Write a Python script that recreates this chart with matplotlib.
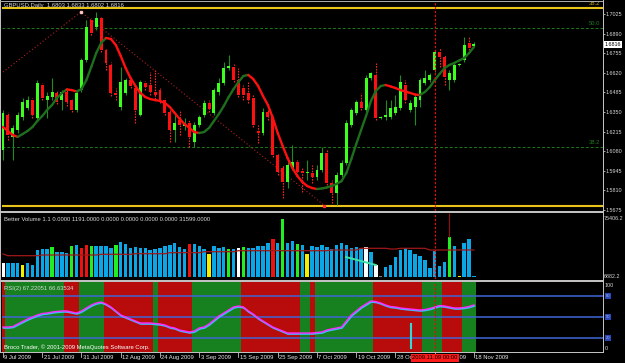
import numpy as np
import matplotlib
matplotlib.use('Agg')
import matplotlib.pyplot as plt
import matplotlib.transforms as mtransforms
from matplotlib.collections import LineCollection
from matplotlib.patches import Rectangle

plt.rcParams['font.family'] = ['Liberation Sans', 'DejaVu Sans']

W, H = 625, 363

# GBPUSD daily bars, 9 Jul 2009 .. 18 Nov 2009 (two short Sunday bars included)
opens = [1.6088, 1.6329, 1.6178, 1.6226, 1.6315, 1.6377, 1.6432, 1.6308, 1.6535, 1.6432,
         1.6453, 1.6480, 1.6432, 1.6487, 1.6432, 1.6364, 1.6501, 1.6708, 1.6984, 1.6935,
         1.6997, 1.6777, 1.6673, 1.6480, 1.6384, 1.6480, 1.6570, 1.6515, 1.6329, 1.6549,
         1.6535, 1.6487, 1.6501, 1.6432, 1.6350, 1.6226, 1.6295, 1.6253, 1.6274, 1.6143,
         1.6260, 1.6329, 1.6411, 1.6343, 1.6487, 1.6549, 1.6653, 1.6660, 1.6570, 1.6515,
         1.6480, 1.6446, 1.6219, 1.6205, 1.6350, 1.6315, 1.6054, 1.5964, 1.5867, 1.5964,
         1.6005, 1.5943, 1.5929, 1.5929, 1.5902, 1.5950, 1.6067, 1.5860, 1.5792, 1.5916,
         1.5998, 1.6260, 1.6343, 1.6418, 1.6364, 1.6584, 1.6604, 1.6308, 1.6315, 1.6315,
         1.6343, 1.6377, 1.6535, 1.6364, 1.6384, 1.6432, 1.6549, 1.6570, 1.6639, 1.6763,
         1.6729, 1.6570, 1.6570, 1.6673, 1.6708, 1.6825, 1.6803]
highs = [1.6364, 1.6350, 1.6260, 1.6350, 1.6446, 1.6460, 1.6446, 1.6570, 1.6549, 1.6487,
         1.6584, 1.6501, 1.6501, 1.6515, 1.6446, 1.6501, 1.6722, 1.6984, 1.6997, 1.7039,
         1.7011, 1.6791, 1.6694, 1.6515, 1.6660, 1.6584, 1.6584, 1.6529, 1.6570, 1.6563,
         1.6625, 1.6639, 1.6515, 1.6446, 1.6364, 1.6343, 1.6364, 1.6308, 1.6295, 1.6281,
         1.6329, 1.6432, 1.6432, 1.6515, 1.6584, 1.6694, 1.6742, 1.6680, 1.6653, 1.6535,
         1.6556, 1.6466, 1.6260, 1.6377, 1.6364, 1.6329, 1.6067, 1.5985, 1.6005, 1.6122,
         1.6019, 1.5964, 1.6019, 1.5985, 1.5985, 1.6109, 1.6088, 1.5881, 1.5936, 1.6019,
         1.6295, 1.6377, 1.6432, 1.6480, 1.6604, 1.6625, 1.6687, 1.6322, 1.6432, 1.6432,
         1.6466, 1.6604, 1.6570, 1.6432, 1.6466, 1.6584, 1.6639, 1.6618, 1.6777, 1.6791,
         1.6742, 1.6639, 1.6687, 1.6687, 1.6867, 1.6867, 1.6833]
lows = [1.6019, 1.6157, 1.6019, 1.6205, 1.6295, 1.6364, 1.6308, 1.6295, 1.6432, 1.6308,
        1.6432, 1.6405, 1.6364, 1.6391, 1.6350, 1.6350, 1.6487, 1.6694, 1.6880, 1.6915,
        1.6763, 1.6639, 1.6460, 1.6432, 1.6364, 1.6466, 1.6515, 1.6274, 1.6322, 1.6501,
        1.6466, 1.6439, 1.6411, 1.6329, 1.6143, 1.6143, 1.6191, 1.6226, 1.6109, 1.6109,
        1.6246, 1.6315, 1.6350, 1.6329, 1.6466, 1.6535, 1.6639, 1.6556, 1.6453, 1.6432,
        1.6411, 1.6246, 1.6136, 1.6191, 1.6295, 1.6040, 1.5916, 1.5757, 1.5826, 1.5950,
        1.5916, 1.5799, 1.5881, 1.5860, 1.5881, 1.5936, 1.5847, 1.5723, 1.5709, 1.5902,
        1.5985, 1.6246, 1.6329, 1.6364, 1.6350, 1.6570, 1.6295, 1.6302, 1.6295, 1.6302,
        1.6329, 1.6364, 1.6411, 1.6350, 1.6260, 1.6384, 1.6535, 1.6556, 1.6625, 1.6660,
        1.6535, 1.6501, 1.6556, 1.6667, 1.6694, 1.6777, 1.6802]
closes = [1.6343, 1.6191, 1.6240, 1.6329, 1.6418, 1.6432, 1.6329, 1.6549, 1.6446, 1.6460,
          1.6487, 1.6418, 1.6487, 1.6418, 1.6364, 1.6480, 1.6708, 1.6935, 1.6894, 1.6997,
          1.6777, 1.6687, 1.6480, 1.6466, 1.6556, 1.6570, 1.6529, 1.6364, 1.6556, 1.6522,
          1.6487, 1.6466, 1.6432, 1.6343, 1.6226, 1.6274, 1.6260, 1.6267, 1.6178, 1.6260,
          1.6315, 1.6411, 1.6370, 1.6501, 1.6549, 1.6653, 1.6667, 1.6570, 1.6466, 1.6466,
          1.6432, 1.6260, 1.6205, 1.6350, 1.6315, 1.6054, 1.5936, 1.5867, 1.5985, 1.6005,
          1.5936, 1.5929, 1.5936, 1.5902, 1.5950, 1.6067, 1.5860, 1.5792, 1.5916, 1.5998,
          1.6274, 1.6364, 1.6418, 1.6377, 1.6584, 1.6618, 1.6308, 1.6315, 1.6329, 1.6377,
          1.6384, 1.6556, 1.6432, 1.6411, 1.6453, 1.6570, 1.6584, 1.6604, 1.6763, 1.6729,
          1.6591, 1.6618, 1.6673, 1.6680, 1.6811, 1.6791, 1.6816]

# smoothed moving average drawn over the candles (red falling, green rising)
hma = [1.6246, 1.6219, 1.6191, 1.6178, 1.6198, 1.6219, 1.6246, 1.6288, 1.6322, 1.6364,
       1.6398, 1.6446, 1.6481, 1.6505, 1.6501, 1.6491, 1.6508, 1.6570, 1.6660, 1.6756,
       1.6825, 1.6860, 1.6853, 1.6811, 1.6736, 1.6653, 1.6584, 1.6529, 1.6481, 1.6453,
       1.6439, 1.6432, 1.6426, 1.6412, 1.6384, 1.6343, 1.6302, 1.6267, 1.6240, 1.6212,
       1.6205, 1.6212, 1.6240, 1.6288, 1.6336, 1.6391, 1.6453, 1.6508, 1.6557, 1.6598,
       1.6605, 1.6577, 1.6529, 1.6460, 1.6398, 1.6309, 1.6205, 1.6116, 1.6033, 1.5964,
       1.5909, 1.5868, 1.5840, 1.5826, 1.5819, 1.5823, 1.5830, 1.5840, 1.5854, 1.5874,
       1.5930, 1.6026, 1.6129, 1.6226, 1.6322, 1.6426, 1.6495, 1.6529, 1.6536, 1.6526,
       1.6515, 1.6501, 1.6491, 1.6481, 1.6470, 1.6467, 1.6488, 1.6522, 1.6570, 1.6612,
       1.6653, 1.6674, 1.6688, 1.6705, 1.6722, 1.6756, 1.6798]

# fibonacci / trend objects on the price pane
fib_yellow = [1.7066, 1.5702]
fib_green = [1.6929, 1.6109]
fib_green_lbl = ['50.0', '38.2']
trend_x = [0.0, 15.9, 65.4]
trend_y = [1.6625, 1.7039, 1.5709]
price_ticks = [1.7025, 1.6890, 1.6755, 1.6620, 1.6485, 1.6350, 1.6215,
               1.6080, 1.5945, 1.5810, 1.5675]

# Better Volume 1.1
volumes = [23422, 23422, 23422, 23422, 21059, 23422, 21059, 38780, 39961, 39961,
           42324, 36417, 36417, 35236, 43505, 44686, 41143, 44686, 43505, 43505,
           43505, 43505, 41143, 44686, 48231, 45868, 41143, 42324, 41143, 41143,
           38780, 39961, 41143, 43505, 44686, 47049, 42324, 39961, 45868, 45868,
           43505, 39961, 34054, 43505, 41143, 42324, 39961, 39961, 41143, 42324,
           41143, 41143, 43505, 43505, 47049, 51775, 47049, 75406, 47049, 49412,
           45868, 44686, 34054, 43505, 42324, 44686, 42324, 39961, 44686, 47049,
           44686, 41143, 42324, 41143, 42324, 36417, 21059, 8063, 18696, 21059,
           30510, 38780, 41143, 38780, 34054, 31691, 26966, 17515, 37598, 19877,
           24603, 54138, 43505, 7500, 47049, 51775, 8063]
vol_kind = list("wbbbybbbbb" "gbbbgbrrgb" "bbbgbbbbbb" "bbbbbbbbrb" "bbybbbgbwg"
                "bbbbbrbgbb" "gbybbbbbbb" "bbbbwbwkbb" "bbbbbbbbbb" "bgbybbb")
vol_avg = [34054, 32046, 32046, 32046, 32046, 32046, 32046, 32046, 32873, 32873,
           32873, 32873, 32873, 32873, 32873, 32873, 32873, 32873, 32873, 32873,
           33700, 33700, 33700, 33700, 33700, 33700, 33700, 34409, 34409, 34409,
           34409, 34409, 34409, 34409, 35590, 35590, 35590, 35590, 35590, 35590,
           35590, 36772, 36772, 36772, 36772, 36772, 36772, 36772, 37953, 37953,
           37953, 37953, 37953, 37953, 37953, 37953, 37953, 37953, 37953, 37953,
           37953, 37953, 37953, 37953, 37953, 37953, 37953, 38780, 38780, 38780,
           38780, 38780, 38780, 40788, 40788, 40788, 40788, 40788, 40788, 39961,
           39961, 40788, 40788, 40788, 40788, 40788, 40788, 38780, 38780, 38780,
           38780, 38780, 38780, 38780, 38780, 38780, 38780]
vol_top, vol_floor = 75406.2, 6882.2

# RSI(2) pane
rsi = [35.7, 35.7, 36.4, 40.0, 43.6, 47.1, 50.0, 52.9, 55.0, 55.7,
       57.1, 57.9, 58.6, 58.6, 57.1, 55.7, 58.6, 62.9, 67.1, 70.0,
       71.4, 68.6, 64.3, 58.6, 52.9, 50.0, 47.1, 44.3, 41.4, 41.4,
       41.4, 40.7, 40.0, 38.6, 35.7, 34.3, 31.4, 30.0, 28.6, 30.0,
       34.3, 35.7, 40.0, 45.7, 51.4, 55.7, 60.0, 64.3, 65.7, 64.3,
       58.6, 54.3, 48.6, 44.3, 40.0, 35.7, 32.9, 30.0, 27.1, 27.1,
       27.1, 27.1, 27.1, 27.1, 27.9, 28.6, 31.4, 32.9, 34.3, 35.7,
       44.3, 52.9, 58.6, 64.3, 68.6, 72.9, 72.1, 70.0, 67.1, 65.0,
       64.3, 62.9, 62.1, 61.4, 60.7, 60.0, 60.7, 62.1, 64.3, 66.4,
       65.7, 64.3, 62.9, 62.9, 63.6, 65.0, 67.2]
rsi_zone = ("0" "111111111111" "000" "11111" "0000000000" "1" "0000000"
            "1111111111" "000000000000" "11" "0" "111111111111"
            "0000000000" "1111" "0000" "111")
rsi_levels = [80, 50, 20]

date_idx = [0, 8, 16, 24, 32, 40, 48, 56, 64, 72, 80, 88, 96]
date_lbl = ['9 Jul 2009', '21 Jul 2009', '31 Jul 2009', '12 Aug 2009', '24 Aug 2009',
            '3 Sep 2009', '15 Sep 2009', '25 Sep 2009', '7 Oct 2009', '19 Oct 2009',
            '28 Oct 2009', '9 Nov 2009', '18 Nov 2009']
cross_idx = 88

BG = 'black'
FRAME = '#c0c0c0'
TXT = '#d8d8d8'
FS = 4.2
FSR = 3.9   # right-hand scale labels


def box(x0, y0, x1, y1):
    return [x0 / W, 1 - y1 / H, (x1 - x0) / W, (y1 - y0) / H]


def band(x0, y0, x1, y1, color):
    fig.add_artist(Rectangle((x0 / W, 1 - y1 / H), (x1 - x0) / W, (y1 - y0) / H,
                             transform=fig.transFigure, color=color, lw=0, zorder=20))


fig = plt.figure(figsize=(W / 100, H / 100), dpi=100, facecolor=BG)
ax = fig.add_axes(box(2, 2, 603, 211))
axv = fig.add_axes(box(2, 213, 603, 279))
axr = fig.add_axes(box(2, 282, 603, 352))
for a in (ax, axv, axr):
    a.set_facecolor(BG)
    a.set_xlim(-0.2, 122.3)
    for s in a.spines.values():
        s.set_visible(False)
    a.tick_params(left=False, bottom=False, labelleft=False, labelbottom=False)
    a.axvline(cross_idx, color='#ff0000', lw=0.8, ls=(0, (2, 1.5)), zorder=8)

x = np.arange(len(closes))
o, h, l, c = (np.array(v) for v in (opens, highs, lows, closes))
up = c >= o

# ---- price pane
ax.set_ylim(1.56677, 1.71077)
for lv in fib_yellow:
    ax.axhline(lv, color='#e8c41a', lw=1.5, zorder=1)
for lv, lbl in zip(fib_green, fib_green_lbl):
    ax.axhline(lv, color='#1c7a1c', lw=0.7, ls=(0, (3, 2)), zorder=1)
    ax.text(121.8, lv + 0.0012, lbl, ha='right', va='bottom', fontsize=FS, color='#1c7a1c')
ax.text(121.8, fib_yellow[0] + 0.0014, '38.2', ha='right', va='bottom', fontsize=FS,
        color='#c8a814')
ax.plot(trend_x, trend_y, color='#b02020', lw=0.8, ls=(0, (1, 2)), zorder=2)
ax.plot(trend_x[1], trend_y[1], 's', ms=2, color='#ffc0c0', zorder=6)
ax.plot(trend_x[2], fib_yellow[1], 's', ms=2, color='#ff3030', zorder=6)

ax.vlines(x[up], l[up], h[up], color='#1f8c1f', lw=0.8, zorder=3)
ax.vlines(x[~up], l[~up], h[~up], color='#ff2020', lw=0.8,
          linestyles=(0, (1.5, 1)), zorder=3)
body = np.maximum(np.abs(c - o), 0.0006)
ax.bar(x, body, bottom=np.minimum(o, c), width=0.6,
       color=np.where(up, '#3cff1e', '#ff1010'), zorder=4)

pts = np.column_stack([x, hma])
segs = np.stack([pts[:-1], pts[1:]], axis=1)
seg_cols = ['#ff1010' if hma[i + 1] < hma[i] else '#1d6e1d' for i in range(len(hma) - 1)]
ax.add_collection(LineCollection(segs, colors=seg_cols, linewidths=1.7,
                                 capstyle='round', zorder=5))

ax.yaxis.set_ticks_position('right')
ax.set_yticks(price_ticks)
ax.set_yticklabels([f'{v:.4f}' for v in price_ticks])
ax.tick_params(axis='y', right=True, labelright=True, length=1.5, width=0.6,
               color=FRAME, labelcolor=TXT, labelsize=FSR, pad=0.6)
yt = mtransforms.blended_transform_factory(ax.transAxes, ax.transData)
ax.text(1.003, closes[-1], f'{closes[-1]:.4f}', transform=yt, ha='left', va='center',
        fontsize=FSR, color='black', clip_on=False, zorder=10,
        bbox=dict(boxstyle='square,pad=0.15', fc='white', ec='none'))
ax.text(0.003, 0.981, 'GBPUSD,Daily  1.6803 1.6833 1.6802 1.6816',
        transform=ax.transAxes, ha='left', va='center', fontsize=FS, color=TXT)

# ---- volume pane
axv.set_ylim(4519, 82492)
vcol = {'b': '#0ba6e6', 'g': '#22ee22', 'r': '#ee1111', 'y': '#f0f000',
        'w': '#ffffff', 'k': '#808080'}
axv.bar(x, np.array(volumes) - vol_floor, bottom=vol_floor, width=0.7,
        color=[vcol[k] for k in vol_kind], zorder=2)
axv.plot(x, vol_avg, color='#a01818', lw=0.9, zorder=3)
axv.vlines(91, volumes[91], 82492, color='#8b1010', lw=0.9, zorder=3)
axv.plot([69.9, 76.0], [30510, 21059], color='#3de0a8', lw=1.4, zorder=4)
axv.text(0.003, 0.894, 'Better Volume 1.1 0.0000 1191.0000 0.0000 0.0000 0.0000 0.0000 31599.0000',
         transform=axv.transAxes, ha='left', va='center', fontsize=FS, color=TXT)
vt = mtransforms.blended_transform_factory(axv.transAxes, axv.transData)
for v in (vol_top, vol_floor):
    axv.text(1.001, v, f'{v:.1f}', transform=vt, ha='left', va='center',
             fontsize=FSR, color=TXT, clip_on=False)

# ---- RSI pane
axr.set_ylim(0, 100)
axr.bar(x, 100, width=1.0, linewidth=0, zorder=1,
        color=['#17801f' if z == '1' else '#b80c0c' for z in rsi_zone])
for lv in rsi_levels:
    axr.axhline(lv, color='#3f66d6', lw=1.1, zorder=2)
shifted = mtransforms.offset_copy(axr.transData, fig=fig, x=0.5, y=-1, units='dots')
axr.plot(x, rsi, color='#40b8ff', lw=1.2, transform=shifted, zorder=3)
axr.plot(x, rsi, color='#ff2cff', lw=1.0, zorder=4)
axr.plot([83.2, 83.2], [39.6, 5.3], color='#30d8d8', lw=1.5, zorder=4)
axr.text(0.003, 0.914, 'RSI(2) 67.22051 66.63534', transform=axr.transAxes,
         ha='left', va='center', fontsize=FS, color=TXT, zorder=6)
axr.text(0.003, 0.071, 'Broco Trader, \u00a9 2001-2009 MetaQuotes Software Corp.',
         transform=axr.transAxes, ha='left', va='center', fontsize=FS, color='white', zorder=6)
rt = mtransforms.blended_transform_factory(axr.transAxes, axr.transData)
axr.text(1.003, 94.3, '100', transform=rt, ha='left', va='center', fontsize=FSR,
         color=TXT, clip_on=False)
axr.text(1.003, 5.7, '0', transform=rt, ha='left', va='center', fontsize=FSR,
         color=TXT, clip_on=False)
for lv in rsi_levels:
    axr.text(1.004, lv, str(lv), transform=rt, ha='left', va='center', fontsize=3.0,
             color='#9fb4ff', clip_on=False,
             bbox=dict(boxstyle='square,pad=0.15', fc='#2a48b8', ec='none'))

dt = mtransforms.blended_transform_factory(axr.transData, axr.transAxes)
for i, lbl in zip(date_idx, date_lbl):
    axr.plot([i, i], [0, -0.07], transform=dt, color=FRAME, lw=0.6, clip_on=False)
    axr.text(i + 0.3, -0.085, lbl, transform=dt, ha='left', va='center',
             fontsize=FS, color='#e8e8e8', clip_on=False, zorder=5)
# crosshair date box sits on top of the 28 Oct / 9 Nov labels, as in the terminal
axr.text(cross_idx, -0.085, '2009.11.09 00:00', transform=dt, ha='center', va='center',
         fontsize=FS, color='black', clip_on=False, zorder=12,
         bbox=dict(boxstyle='square,pad=0.25', fc='#ff1a1a', ec='none'))

# ---- window frame / separators
band(0, 0, 1.5, 353, FRAME)
band(0, 0.8, 603, 2.2, '#a8a8a8')
band(0, 211, 603, 213, FRAME)
band(0, 279.6, 603, 282, FRAME)
band(0, 351.8, 603, 353.2, FRAME)
band(603, 0, 604.4, 353.2, FRAME)

fig.savefig('out.png', dpi=100, facecolor=BG)
